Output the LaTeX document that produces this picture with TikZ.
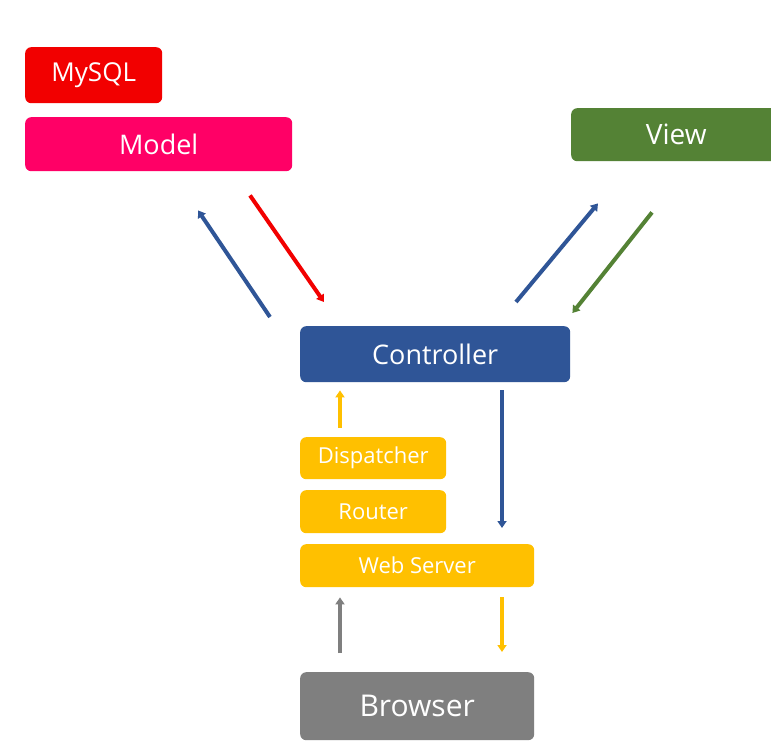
\documentclass[tikz,border=0pt]{standalone}
\usepackage{fontspec}
\setmainfont{Open Sans}
\usetikzlibrary{arrows.meta,calc}
\definecolor{cred}{HTML}{F20000}
\definecolor{cpink}{HTML}{FF0066}
\definecolor{cgreen}{HTML}{548235}
\definecolor{cblue}{HTML}{2F5597}
\definecolor{cyel}{HTML}{FFC000}
\definecolor{cgrey}{HTML}{7F7F7F}
\tikzset{
  box/.style={rounded corners=6pt, inner sep=0pt, text=white, anchor=north west},
  conn/.style={line width=4pt, -{Triangle[length=7pt,width=9pt]}}
}
\begin{document}
\begin{tikzpicture}[x=1pt,y=-1pt]
\useasboundingbox (0,0) rectangle (771,744);
\fill[white] (0,0) rectangle (771,744);
\node[box, fill=cred, minimum width=137pt, minimum height=56pt, font=\fontsize{26}{30}\selectfont] (mysql) at (25,47) {MySQL};
\node[box, fill=cpink, minimum width=267pt, minimum height=54pt, font=\fontsize{27}{30}\selectfont] (model) at (25,117) {Model};
\node[box, fill=cgreen, minimum width=210pt, minimum height=53pt, font=\fontsize{28}{30}\selectfont] (view) at (571,108) {View};
\node[box, fill=cblue, minimum width=270pt, minimum height=56pt, font=\fontsize{27}{30}\selectfont] (ctrl) at (300,326) {Controller};
\node[box, fill=cyel, minimum width=146pt, minimum height=42pt, font=\fontsize{22}{24}\selectfont] (disp) at (300,437) {Dispatcher};
\node[box, fill=cyel, minimum width=146pt, minimum height=43pt, font=\fontsize{22}{24}\selectfont] (router) at (300,490) {Router};
\node[box, fill=cyel, minimum width=234pt, minimum height=43pt, font=\fontsize{22}{24}\selectfont] (web) at (300,544) {Web Server};
\node[box, fill=cgrey, minimum width=234pt, minimum height=68pt, font=\fontsize{30}{34}\selectfont] (browser) at (300,672) {Browser};
% endpoints
\coordinate (a1s) at ($(ctrl.north west)+(-30,-9)$);
\coordinate (a1e) at ($(model.south west)+(173,39)$);
\coordinate (a2s) at ($(model.south west)+(225,24)$);
\coordinate (a2e) at ($(ctrl.north west)+(24,-24)$);
\coordinate (a3s) at ($(ctrl.north west)+(216,-24)$);
\coordinate (a3e) at ($(view.south west)+(27,42)$);
\coordinate (a4s) at ($(view.south west)+(81,51)$);
\coordinate (a4e) at ($(ctrl.north east)+(2,-13)$);
\coordinate (a5e) at ($(ctrl.south west)+(40,8)$);
\coordinate (a6s) at ($(ctrl.south west)+(202,8)$);
\draw[conn, cblue] (a1s) -- (a1e);
\draw[conn, cred] (a2s) -- (a2e);
\draw[conn, cblue] (a3s) -- (a3e);
\draw[conn, cgreen] (a4s) -- (a4e);
\draw[conn, cyel] ($(disp.north west)+(40,-9)$) -- (a5e);
\draw[conn, cblue] (a6s) -- ($(web.north west)+(202,-16)$);
\draw[conn, cgrey] ($(browser.north west)+(40,-19)$) -- ($(web.south west)+(40,10)$);
\draw[conn, cyel] ($(web.south west)+(202,10)$) -- ($(browser.north west)+(202,-20)$);
\end{tikzpicture}
\end{document}
